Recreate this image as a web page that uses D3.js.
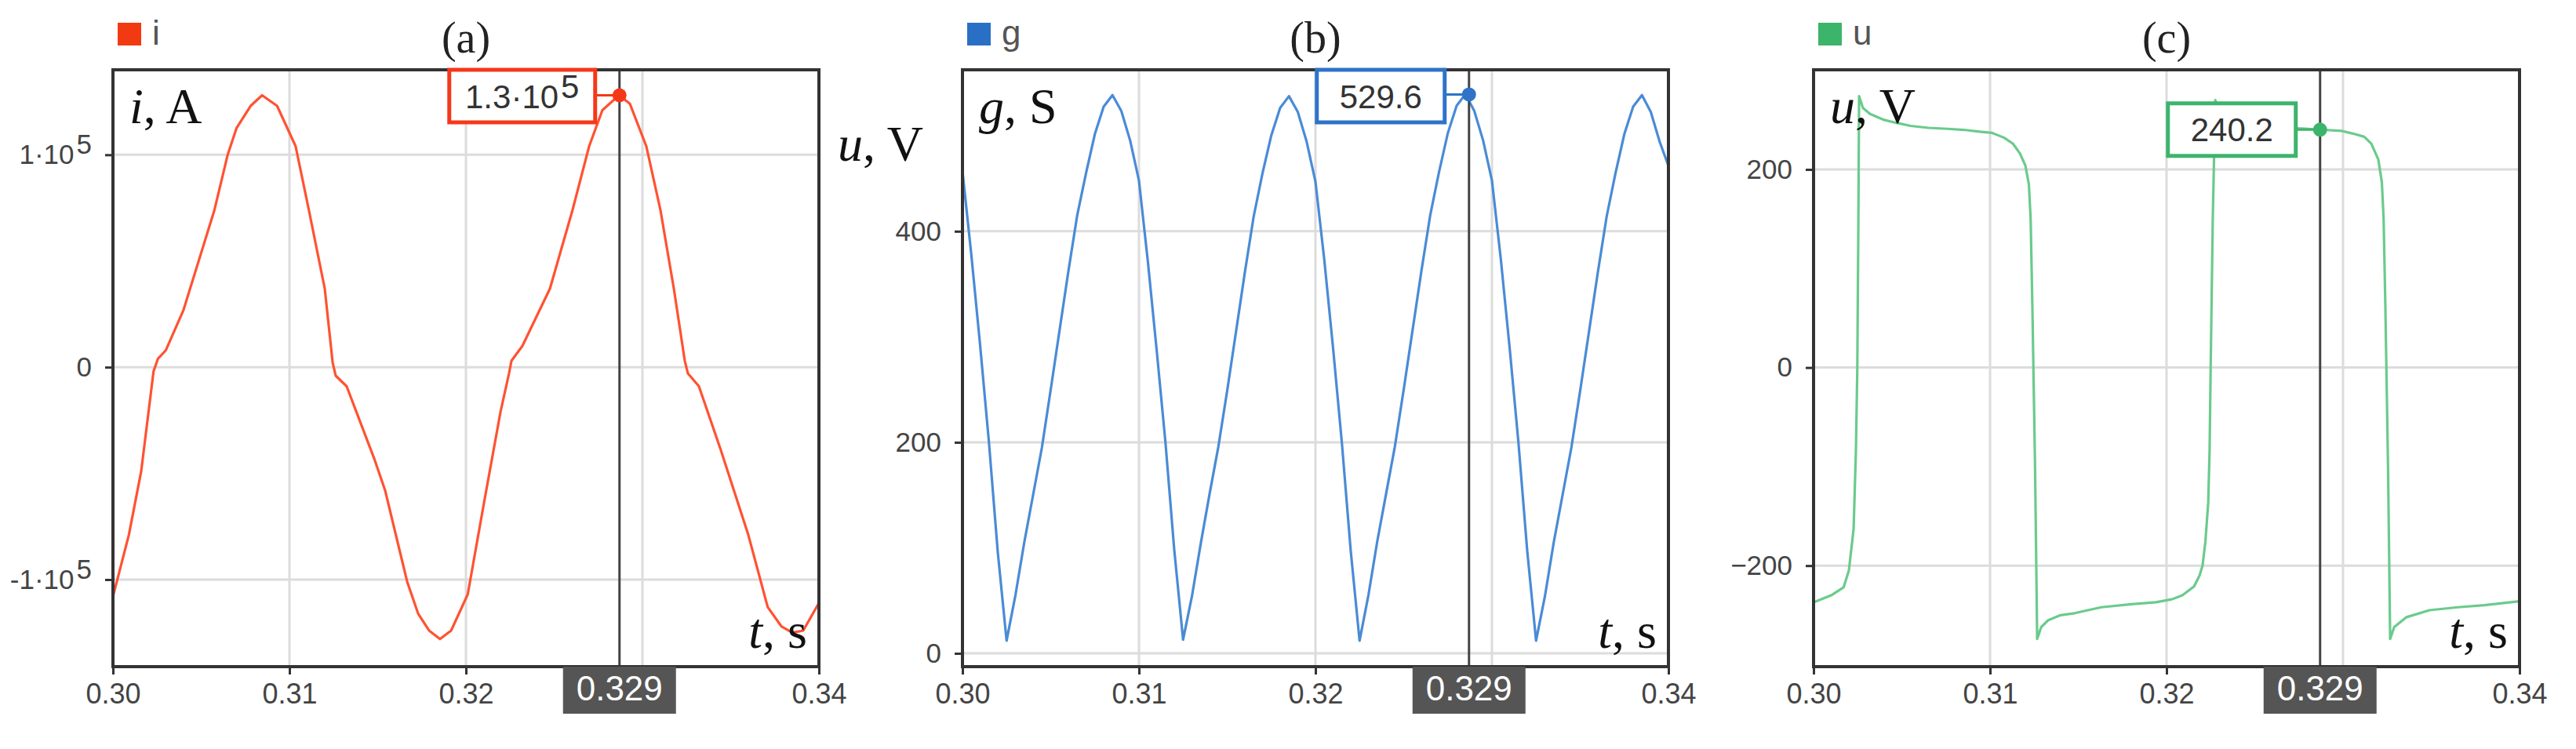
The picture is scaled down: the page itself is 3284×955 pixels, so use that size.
<!DOCTYPE html>
<html>
<head>
<meta charset="utf-8">
<script src="https://cdnjs.cloudflare.com/ajax/libs/d3/7.8.5/d3.min.js"></script>
<style>
  body { margin: 0; background: #fff; }
  .tick text { font-family: 'Liberation Sans', Arial, sans-serif; fill: #444; }
</style>
</head>
<body>
<script>
// Define SVG area dimensions
let svgWidth = 3284;
let svgHeight = 955;

//*********************************************//
// Data
// shared time axis, s
let timeDomain = [0.30, 0.34];
let timeTicks = [0.30, 0.31, 0.32, 0.33, 0.34];

// cursor read-out
let cursorTime = 0.3287;
let cursorText = '0.329';

// (a) current i, A
let iTime = [0.3000, 0.3009, 0.3016, 0.3023, 0.30255, 0.3030, 0.3040, 0.30575, 0.3065, 0.3070,
  0.3078, 0.30845, 0.3093, 0.31035, 0.3111, 0.3120, 0.31245, 0.31262, 0.31324, 0.3148,
  0.31542, 0.31667, 0.31729, 0.31791, 0.31853, 0.31916, 0.3201, 0.32102, 0.32196, 0.32244,
  0.32258, 0.3232, 0.32476, 0.32604, 0.32698, 0.32773, 0.32867, 0.32929, 0.33022, 0.33102,
  0.33178, 0.3324, 0.33258, 0.3332, 0.33444, 0.3360, 0.3371, 0.33787, 0.33849, 0.33911, 0.3400];
let iValues = [-1.08e5, -0.79e5, -0.49e5, -0.02e5, 0.04e5, 0.08e5, 0.27e5, 0.74e5, 1.00e5, 1.125e5,
  1.23e5, 1.28e5, 1.23e5, 1.04e5, 0.74e5, 0.37e5, 0.02e5, -0.04e5, -0.09e5, -0.43e5,
  -0.58e5, -1.01e5, -1.16e5, -1.24e5, -1.28e5, -1.24e5, -1.07e5, -0.64e5, -0.21e5, -0.03e5,
  0.03e5, 0.10e5, 0.37e5, 0.74e5, 1.04e5, 1.21e5, 1.28e5, 1.24e5, 1.04e5, 0.74e5,
  0.37e5, 0.03e5, -0.03e5, -0.09e5, -0.39e5, -0.79e5, -1.13e5, -1.22e5, -1.25e5, -1.24e5, -1.11e5];
let iTicks = [-1e5, 0, 1e5];
let iDomain = [-1.41e5, 1.40e5];
let iAtCursor = 1.28e5;

// (b) conductance g, S  (sampled every 0.5 ms from 0.300 s)
let gStart = 0.300;
let gStep = 0.0005;
let gValues = [457, 378, 292, 200, 96, 12, 55, 105, 150, 195, 250, 306, 362, 415, 455, 492, 518, 529, 514, 486,
  448, 372, 288, 200, 98, 13, 54, 104, 151, 196, 249, 305, 361, 414, 455, 491, 517, 528, 513, 485,
  447, 373, 289, 199, 97, 12, 55, 106, 151, 196, 250, 306, 362, 415, 456, 493, 519, 530, 514, 486,
  448, 374, 290, 200, 97, 12, 54, 105, 150, 195, 249, 305, 361, 414, 455, 492, 518, 529, 513, 485,
  462];
let gTicks = [0, 200, 400];
let gDomain = [-12.6, 553];
let gAtCursor = 529.6;

// (c) voltage u, V
let uTime = [0.3000, 0.3010, 0.3017, 0.3020, 0.30227, 0.3024, 0.30248, 0.30254, 0.30258, 0.3028,
  0.3032, 0.3040, 0.3047, 0.3055, 0.3065, 0.3076, 0.3085, 0.3095, 0.3101, 0.3108,
  0.3113, 0.3117, 0.3120, 0.3122, 0.3123, 0.3124, 0.31255, 0.31267, 0.3129, 0.3133,
  0.3140, 0.3148, 0.3163, 0.3180, 0.3194, 0.3203, 0.3209, 0.32156, 0.32187, 0.32204,
  0.3222, 0.32236, 0.32244, 0.3225, 0.32262, 0.32276, 0.3230, 0.3234, 0.3242, 0.3255,
  0.3265, 0.3275, 0.3287, 0.3299, 0.3306, 0.3312, 0.3316, 0.3320, 0.3322, 0.3323,
  0.3324, 0.33255, 0.33267, 0.3329, 0.3336, 0.3349, 0.3365, 0.3380, 0.3400];
let uValues = [-237, -230, -222, -205, -163, -84, 0, 150, 274, 262,
  256, 250, 247, 244, 242, 241, 240, 238, 237, 232,
  226, 216, 204, 185, 150, 60, -100, -274, -262, -255,
  -250, -248, -242, -239, -237, -234, -230, -221, -210, -200,
  -176, -137, -84, 0, 150, 270, 260, 254, 249, 245,
  243, 241.5, 240.2, 239, 236, 233, 226, 210, 187, 150,
  60, -100, -274, -262, -252, -245, -242, -240, -236];
let uTicks = [-200, 0, 200];
let uDomain = [-302, 300.6];
let uAtCursor = 240.2;

//*********************************************//
// Plot frame shared by all panels
let plotTop = 89;
let plotBottom = 850;
let plotWidth = 900;
let serif = "'Liberation Serif', 'Times New Roman', serif";
let sans = "'Liberation Sans', Arial, sans-serif";

let panels = [
  { left: 144, title: '(a)', legend: 'i', varName: 'i', unit: 'A',
    time: iTime, values: iValues, ticks: iTicks, domain: iDomain, readout: iAtCursor,
    sci: true, boxWidth: 186, line: '#ff5232', mark: '#f5381a', key: '#f23a12' },
  { left: 1227, title: '(b)', legend: 'g', varName: 'g', unit: 'S',
    time: d3.range(gValues.length).map(k => gStart + k * gStep), values: gValues,
    ticks: gTicks, domain: gDomain, readout: gAtCursor,
    sci: false, boxWidth: 163, line: '#4a8bd6', mark: '#2e73c8', key: '#2a6fc6' },
  { left: 2312, title: '(c)', legend: 'u', varName: 'u', unit: 'V',
    time: uTime, values: uValues, ticks: uTicks, domain: uDomain, readout: uAtCursor,
    sci: false, boxWidth: 163, line: '#6acb8c', mark: '#3db46c', key: '#3cb46a' }
];

// Select body, append SVG area to it, and set its dimensions
let svg = d3.select('body')
  .append('svg')
  .attr('width', svgWidth)
  .attr('height', svgHeight)
  .style('display', 'block');

// writes "m·10^5" into a text element
function sciText(el, v) {
  el.text(null);
  if (v === 0) { el.text('0'); return; }
  let m = v / 1e5;
  el.append('tspan').text((m < 0 ? '-' : '') + d3.format('.2~')(Math.abs(m)) + '·10');
  el.append('tspan').attr('dx', 3).attr('dy', -13).text('5');
}

// the time tick under the cursor box is covered, so it gets no label
let timeFormat = function(d) {
  return Math.abs(d - cursorTime) < 0.004 ? '' : d3.format('.2f')(d);
};

panels.forEach(function(p) {
  let xScale = d3.scaleLinear().domain(timeDomain).range([p.left, p.left + plotWidth]);
  let yScale = d3.scaleLinear().domain(p.domain).range([plotBottom, plotTop]);
  let right = p.left + plotWidth;
  let chartGroup = svg.append('g');

  // grid lines
  chartGroup.selectAll('.vgrid')
    .data(timeTicks.slice(1, -1))
    .enter()
    .append('line')
    .attr('x1', d => xScale(d)).attr('x2', d => xScale(d))
    .attr('y1', plotTop).attr('y2', plotBottom)
    .attr('stroke', '#dcdcdc').attr('stroke-width', 3);
  chartGroup.selectAll('.hgrid')
    .data(p.ticks)
    .enter()
    .append('line')
    .attr('x1', p.left).attr('x2', right)
    .attr('y1', d => yScale(d)).attr('y2', d => yScale(d))
    .attr('stroke', '#dcdcdc').attr('stroke-width', 3);

  // the signal
  let createLine = d3.line()
    .x(d => xScale(d[0]))
    .y(d => yScale(d[1]));
  chartGroup.append('path')
    .attr('d', createLine(d3.zip(p.time, p.values)))
    .attr('fill', 'none')
    .attr('stroke', p.line)
    .attr('stroke-width', 3.2)
    .attr('stroke-linejoin', 'round');

  // cursor line
  let xc = xScale(cursorTime);
  chartGroup.append('line')
    .attr('x1', xc).attr('x2', xc)
    .attr('y1', plotTop).attr('y2', plotBottom)
    .attr('stroke', '#444').attr('stroke-width', 3);

  // frame
  chartGroup.append('rect')
    .attr('x', p.left).attr('y', plotTop)
    .attr('width', plotWidth).attr('height', plotBottom - plotTop)
    .attr('fill', 'none')
    .attr('stroke', '#333').attr('stroke-width', 4);

  // axes
  let xAxis = d3.axisBottom(xScale)
    .tickValues(timeTicks)
    .tickFormat(timeFormat)
    .tickSize(10)
    .tickPadding(11);
  let xg = chartGroup.append('g')
    .attr('transform', `translate(0, ${plotBottom})`)
    .call(xAxis);
  xg.select('.domain').remove();
  xg.selectAll('line').attr('stroke', '#333').attr('stroke-width', 3);
  xg.selectAll('text').style('font-size', '36px');

  let yAxis = d3.axisLeft(yScale)
    .tickValues(p.ticks)
    .tickSize(10)
    .tickPadding(17);
  let yg = chartGroup.append('g')
    .attr('transform', `translate(${p.left}, 0)`)
    .call(yAxis);
  yg.select('.domain').remove();
  yg.selectAll('line').attr('stroke', '#333').attr('stroke-width', 3);
  yg.selectAll('text').style('font-size', '35px');
  if (p.sci) {
    yg.selectAll('.tick text').each(function(d) { sciText(d3.select(this), d); });
  }

  // value marker and its box
  let yc = yScale(p.readout);
  let boxH = 67;
  let boxTop = Math.max(plotTop, yc - boxH / 2);
  let boxRight = xc - 31;
  chartGroup.append('line')
    .attr('x1', boxRight).attr('x2', xc)
    .attr('y1', yc).attr('y2', yc)
    .attr('stroke', p.mark).attr('stroke-width', 3);
  chartGroup.append('rect')
    .attr('x', boxRight - p.boxWidth).attr('y', boxTop)
    .attr('width', p.boxWidth).attr('height', boxH)
    .attr('fill', '#fff')
    .attr('stroke', p.mark).attr('stroke-width', 5);
  let vt = chartGroup.append('text')
    .attr('x', boxRight - p.boxWidth / 2)
    .attr('y', boxTop + boxH / 2 + 15)
    .attr('text-anchor', 'middle')
    .style('font-family', sans)
    .style('font-size', '42px')
    .attr('fill', '#333');
  if (p.sci) sciText(vt, p.readout); else vt.text(p.readout);
  chartGroup.append('circle')
    .attr('cx', xc).attr('cy', yc)
    .attr('r', 9)
    .attr('fill', p.mark);

  // cursor time label on the axis
  chartGroup.append('rect')
    .attr('x', xc - 72).attr('y', plotBottom)
    .attr('width', 144).attr('height', 60)
    .attr('fill', '#555');
  chartGroup.append('text')
    .attr('x', xc).attr('y', plotBottom + 43)
    .attr('text-anchor', 'middle')
    .style('font-family', sans)
    .style('font-size', '44px')
    .attr('fill', '#fff')
    .text(cursorText);

  // legend
  chartGroup.append('rect')
    .attr('x', p.left + 6).attr('y', 29)
    .attr('width', 30).attr('height', 29)
    .attr('fill', p.key);
  chartGroup.append('text')
    .attr('x', p.left + 50).attr('y', 57)
    .style('font-family', sans)
    .style('font-size', '44px')
    .attr('fill', '#555')
    .text(p.legend);

  // panel title
  chartGroup.append('text')
    .attr('x', p.left + plotWidth / 2).attr('y', 67)
    .attr('text-anchor', 'middle')
    .style('font-family', serif)
    .style('font-size', '56px')
    .attr('fill', '#222')
    .text(p.title);

  // quantity label inside the frame
  let ql = chartGroup.append('text')
    .attr('x', p.left + 21).attr('y', 157)
    .style('font-family', serif)
    .style('font-size', '64px')
    .attr('fill', '#111');
  ql.append('tspan').style('font-style', 'italic').text(p.varName);
  ql.append('tspan').text(', ' + p.unit);

  // time label
  let tl = chartGroup.append('text')
    .attr('x', right - 15).attr('y', 826)
    .attr('text-anchor', 'end')
    .style('font-family', serif)
    .style('font-size', '64px')
    .attr('fill', '#111');
  tl.append('tspan').style('font-style', 'italic').text('t');
  tl.append('tspan').text(', s');
});

// stray voltage label between panels (a) and (b)
let stray = svg.append('text')
  .attr('x', 1068).attr('y', 205)
  .style('font-family', serif)
  .style('font-size', '64px')
  .attr('fill', '#111');
stray.append('tspan').style('font-style', 'italic').text('u');
stray.append('tspan').text(', V');
</script>
</body>
</html>
